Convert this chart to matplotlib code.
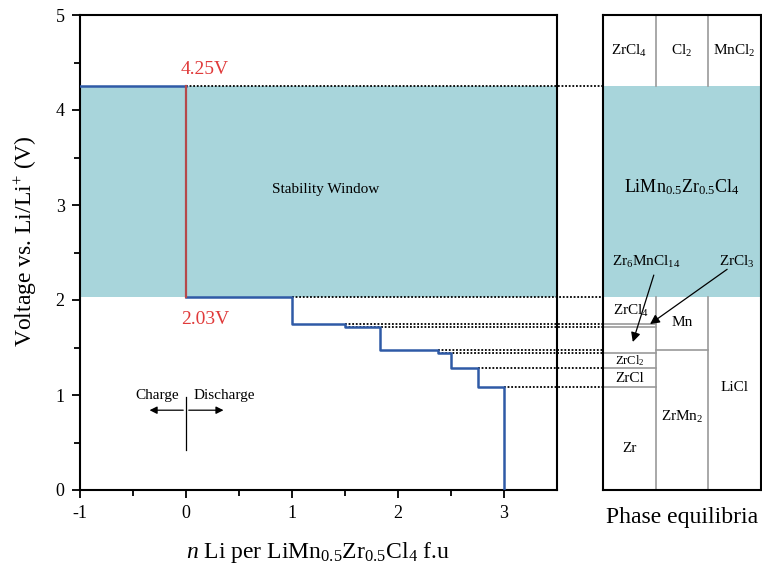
import matplotlib
matplotlib.use('Agg')
import matplotlib.pyplot as plt

plt.rcParams['font.family'] = ['Liberation Serif', 'DejaVu Serif']
plt.rcParams['mathtext.fontset'] = 'custom'
plt.rcParams['mathtext.rm'] = 'Liberation Serif'
plt.rcParams['mathtext.it'] = 'Liberation Serif:italic'
plt.rcParams['axes.unicode_minus'] = False

# step profile: plateau edges (n Li) and plateau voltages
n_edges = [-1, 0, 1, 1.5, 1.833, 2.375, 2.5, 2.75, 3]
volts = [4.25, 2.03, 1.75, 1.72, 1.47, 1.44, 1.28, 1.08]
# where each dotted guide line starts
guide_start = [0, 1, 1.5, 1.5, 2.375, 2.375, 2.75, 3]

v_top = 4.25
v_bot = 2.03

# phase equilibria panel
top_phases = [r'$\mathrm{ZrCl_4}$', r'$\mathrm{Cl_2}$', r'$\mathrm{MnCl_2}$']
col1_cuts = [1.75, 1.72, 1.44, 1.28, 1.08]
col2_cuts = [1.47]

fill_col = '#a8d5db'
blue = '#2f5aa6'
red = '#e03a3a'

fig = plt.figure(figsize=(7.62, 5.68), dpi=100)
ax = fig.add_axes([80/762, 78/568, 477/762, 475/568])
ax2 = fig.add_axes([603/762, 78/568, 158/762, 475/568])

# main panel
ax.axhspan(v_bot, v_top, color=fill_col, lw=0, zorder=0)
xs, ys = [], []
for i, v in enumerate(volts):
    xs += [n_edges[i], n_edges[i+1]]
    ys += [v, v]
xs.append(n_edges[-1])
ys.append(0)
ax.plot(xs[:2], ys[:2], color=blue, lw=1.8, zorder=3)
ax.plot(xs[2:], ys[2:], color=blue, lw=1.8, zorder=3)
ax.plot([0, 0], [v_top, v_bot], color='#b5494a', lw=1.6, zorder=4)

x_end = -1 + 4.5 * (603 - 80) / 477
for x0, v in zip(guide_start, volts):
    ax.plot([x0, x_end], [v, v], color='black', lw=1.3, ls=(0, (1, 1)),
            clip_on=False, zorder=2)

ax.text(0.18, 4.43, '4.25V', color=red, fontsize=14, ha='center', va='center')
ax.text(0.18, 1.79, '2.03V', color=red, fontsize=14, ha='center', va='center')
ax.text(1.32, 3.16, 'Stability Window', fontsize=11, ha='center', va='center')

# charge / discharge marker
ax.plot([0, 0], [0.98, 0.42], color='black', lw=0.9)
ax.annotate('', xy=(-0.37, 0.84), xytext=(0, 0.84),
            arrowprops=dict(arrowstyle='-|>', color='black', lw=0.9, mutation_scale=11))
ax.annotate('', xy=(0.38, 0.84), xytext=(0, 0.84),
            arrowprops=dict(arrowstyle='-|>', color='black', lw=0.9, mutation_scale=11))
ax.text(-0.07, 1.0, 'Charge', fontsize=11, ha='right', va='center')
ax.text(0.07, 1.0, 'Discharge', fontsize=11, ha='left', va='center')

ax.set_xlim(-1, 3.5)
ax.set_ylim(0, 5)
ax.set_xticks([-1, 0, 1, 2, 3])
ax.set_xticks([-0.5, 0.5, 1.5, 2.5], minor=True)
ax.set_yticks([0, 1, 2, 3, 4, 5])
ax.set_yticks([0.5, 1.5, 2.5, 3.5, 4.5], minor=True)
ax.tick_params(which='major', direction='out', length=6, width=1.3, labelsize=13, pad=5)
ax.tick_params(which='minor', direction='out', length=4, width=1.3)
for s in ax.spines.values():
    s.set_linewidth(1.5)
ax.set_xlabel(r'$n$ Li per LiMn$_{0.5}$Zr$_{0.5}$Cl$_4$ f.u', fontsize=17, labelpad=13)
ax.set_ylabel(r'Voltage vs. Li/Li$^{+}$ (V)', fontsize=17)
ax.yaxis.set_label_coords(-0.086, 0.525)

# phase equilibria panel
gray = '#999999'
ax2.axhspan(v_bot, v_top, color=fill_col, lw=0, zorder=0)
for xv in [1, 2]:
    ax2.plot([xv, xv], [v_top, 5], color=gray, lw=1.2)
    ax2.plot([xv, xv], [0, v_bot], color=gray, lw=1.2)
for yv in col1_cuts:
    ax2.plot([0, 1], [yv, yv], color=gray, lw=1.2)
for yv in col2_cuts:
    ax2.plot([1, 2], [yv, yv], color=gray, lw=1.2)
for i, lab in enumerate(top_phases):
    ax2.text(i + 0.5, 4.62, lab, fontsize=11, ha='center', va='center')
ax2.text(1.5, 3.19, r'$\mathrm{LiMn_{0.5}Zr_{0.5}Cl_4}$', fontsize=13, ha='center', va='center')
ax2.text(0.53, 1.88, r'$\mathrm{ZrCl_4}$', fontsize=11, ha='center', va='center')
ax2.text(1.5, 1.76, 'Mn', fontsize=11, ha='center', va='center')
ax2.text(0.5, 1.36, r'$\mathrm{ZrCl_2}$', fontsize=9, ha='center', va='center')
ax2.text(0.5, 1.17, 'ZrCl', fontsize=11, ha='center', va='center')
ax2.text(0.5, 0.44, 'Zr', fontsize=11, ha='center', va='center')
ax2.text(1.5, 0.77, r'$\mathrm{ZrMn_2}$', fontsize=11, ha='center', va='center')
ax2.text(2.5, 1.08, 'LiCl', fontsize=11, ha='center', va='center')
ax2.text(0.83, 2.4, r'$\mathrm{Zr_6MnCl_{14}}$', fontsize=11, ha='center', va='center')
ax2.text(2.55, 2.4, r'$\mathrm{ZrCl_3}$', fontsize=11, ha='center', va='center')
ax2.annotate('', xy=(0.55, 1.53), xytext=(0.98, 2.29),
             arrowprops=dict(arrowstyle='-|>', color='black', lw=0.9, mutation_scale=14))
ax2.annotate('', xy=(0.85, 1.73), xytext=(2.4, 2.34),
             arrowprops=dict(arrowstyle='-|>', color='black', lw=0.9, mutation_scale=14))

ax2.set_xlim(0, 3)
ax2.set_ylim(0, 5)
ax2.set_xticks([])
ax2.set_yticks([])
for s in ax2.spines.values():
    s.set_linewidth(1.5)
ax2.set_xlabel('Phase equilibria', fontsize=17, labelpad=12)

fig.savefig('out.png', dpi=100)
